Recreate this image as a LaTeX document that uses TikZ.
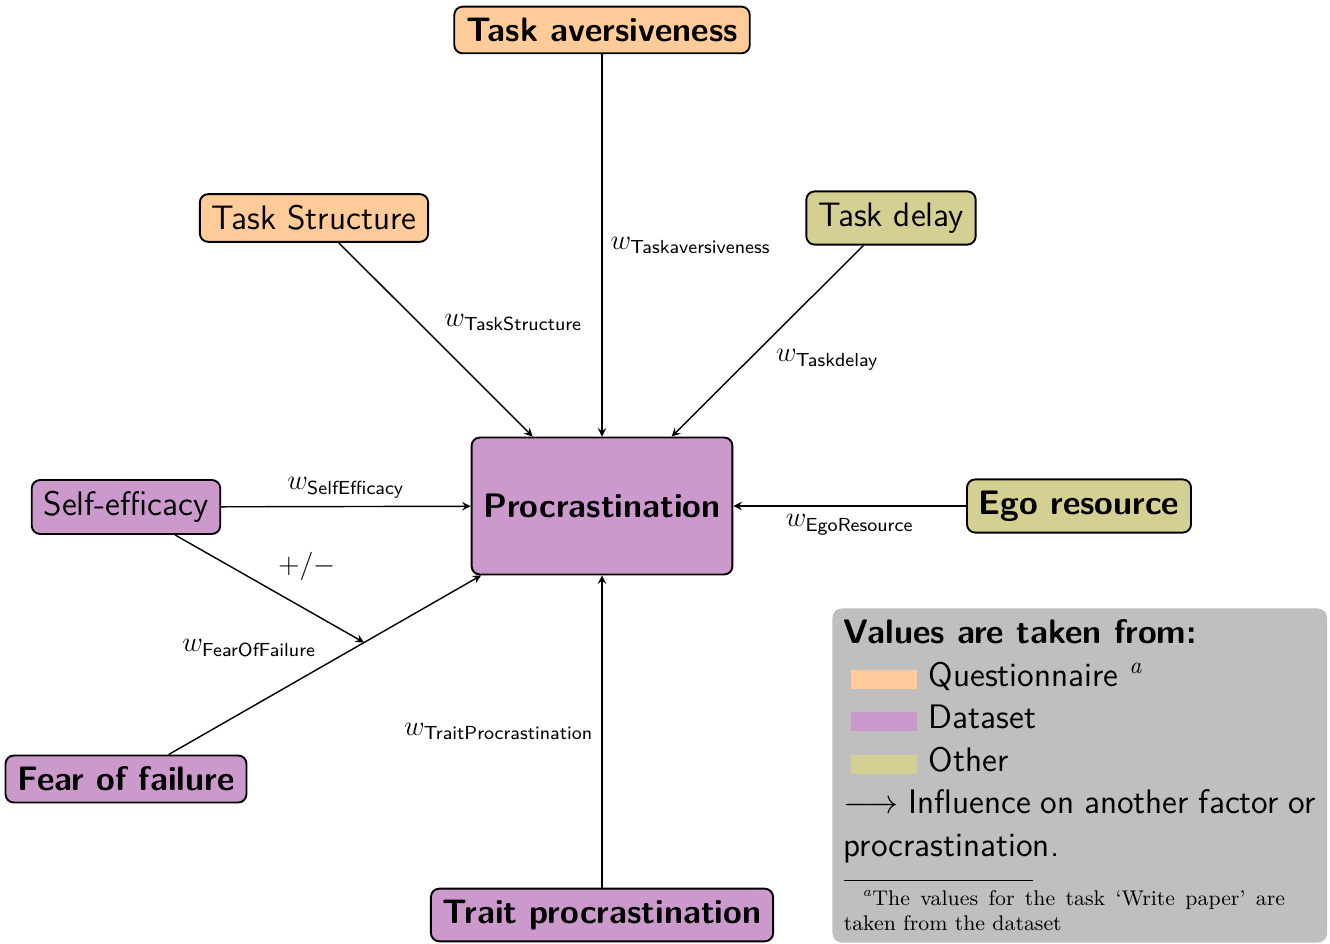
\documentclass[tikz,border=0pt]{standalone}
\usepackage{amsmath}
\usetikzlibrary{calc,arrows}
\definecolor{questcol}{RGB}{255,204,153}
\definecolor{datacol}{RGB}{204,153,204}
\definecolor{othercol}{RGB}{212,208,148}
\definecolor{legendcol}{RGB}{191,191,191}
\newcommand{\swatch}[1]{\hspace*{3pt}\textcolor{#1}{\rule[-1pt]{28pt}{8pt}}\hspace{5pt}}
\newcommand{\notemark}{\textsuperscript{\normalfont\itshape a}}
\begin{document}
\begin{tikzpicture}[x=0.4237pt,y=-0.4237pt,
  factor/.style={draw=black, thick, rounded corners=3.5pt, inner xsep=5pt, inner ysep=4.8pt, font=\sffamily\Large},
  strong/.style={font=\sffamily\bfseries\Large},
  quest/.style={factor, fill=questcol},
  data/.style={factor, fill=datacol},
  other/.style={factor, fill=othercol},
  link/.style={-stealth, semithick},
  wlabel/.style={font=\large}]
  \useasboundingbox (0,0) rectangle (1330,944);

  % factors
  \node[quest, strong] (ta) at (602,30) {Task aversiveness};
  \node[quest] (ts) at (314,218) {Task Structure};
  \node[other] (td) at (891,218) {Task delay};
  \node[data, strong, minimum width=110pt, minimum height=58pt] (pr) at (602,506) {Procrastination};
  \node[data] (se) at (126,507) {Self-efficacy};
  \node[other, strong] (er) at (1079,506) {Ego resource};
  \node[data, strong] (ff) at (126,779) {Fear of failure};
  \node[data, strong] (tp) at (602,915) {Trait procrastination};

  % influences
  \draw[link] (ta) -- (pr) node[wlabel, midway, right] {$w_{\textsf{Taskaversiveness}}$};
  \draw[link] (ts) -- (pr) node[wlabel, midway, above right] {$w_{\textsf{TaskStructure}}$};
  \draw[link] (td) -- (pr) node[wlabel, midway, below right] {$w_{\textsf{Taskdelay}}$};
  \draw[link] (se) -- (pr) node[wlabel, midway, above] {$w_{\textsf{SelfEfficacy}}$};
  \draw[link] (er) -- (pr) node[wlabel, midway, below] {$w_{\textsf{EgoResource}}$};
  \draw[link] (ff) -- (pr) node[wlabel, midway, above left] {$w_{\textsf{FearOfFailure}}$};
  \draw[link] (tp) -- (pr) node[wlabel, midway, left] {$w_{\textsf{TraitProcrastination}}$};
  \coordinate (ffmid) at ($(ff)!0.5!(pr)$);
  \draw[link] (se) -- (ffmid) node[wlabel, midway, above right] {$+/-$};

  % legend with its note
  \node[anchor=north west, fill=legendcol, rounded corners=4pt, inner sep=4.8pt] (legend) at (832,608) {%
    \begin{minipage}{200pt}\sffamily\Large
      \textbf{Values are taken from:}\\
      \swatch{questcol}Questionnaire \notemark\\
      \swatch{datacol}Dataset\\
      \swatch{othercol}Other\\
      $\longrightarrow$ Influence on another factor or procrastination.\par
      \vspace{-7.3pt}%
      \noindent\rule{80pt}{0.4pt}\par
      \vspace{-1pt}%
      {\rmfamily\fontsize{9}{11}\selectfont\rightskip=13pt\relax
       \noindent\hspace*{8pt}\notemark The values for the task `Write paper' are taken from the dataset\par}
    \end{minipage}};
\end{tikzpicture}
\end{document}
